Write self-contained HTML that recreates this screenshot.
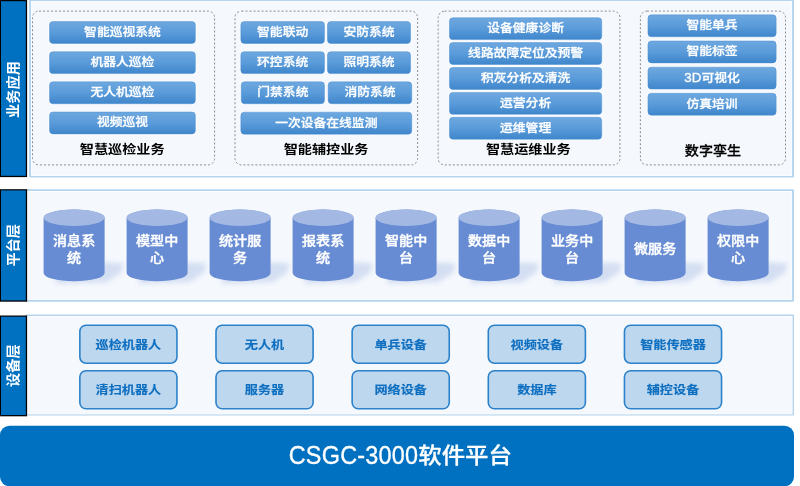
<!DOCTYPE html>
<html lang="zh-CN"><head><meta charset="utf-8"><title>CSGC-3000软件平台</title>
<style>
*{box-sizing:border-box;margin:0;padding:0}
html,body{width:800px;height:486px;overflow:hidden;background:#fff}
svg{display:block;position:absolute;left:0;top:0;filter:blur(0.4px)}
text{font-family:"Liberation Sans", "Noto Sans CJK SC", sans-serif;text-anchor:middle;white-space:pre}
.b{font-size:12.8px;font-weight:500;fill:#fff;stroke:#fff;stroke-width:.3px}
.t{font-size:14.15px;font-weight:700;fill:#000}
.t2{font-size:14.1px;font-weight:500;fill:#000;stroke:#000;stroke-width:.3px}
.c{font-size:14.1px;font-weight:500;fill:#fff;stroke:#fff;stroke-width:.4px}
.d{font-size:13.15px;font-weight:700;fill:#0e6fc0;stroke:#0e6fc0;stroke-width:.15px}
.s{font-size:14.2px;font-weight:700;fill:#fff}
.h{font-size:23.4px;font-weight:500;fill:#fff;stroke:#fff;stroke-width:.3px}
.hl{letter-spacing:.3px}
</style></head>
<body>
<svg width="800" height="486" viewBox="0 0 800 486">
<defs><linearGradient id="g" x1="0" y1="0" x2="0" y2="1"><stop offset="0" stop-color="#6ea8df"/><stop offset=".5" stop-color="#5a9bda"/><stop offset="1" stop-color="#3f86cb"/></linearGradient><filter id="sh" x="-50%" y="-50%" width="200%" height="200%"><feGaussianBlur stdDeviation="2.6"/></filter></defs>
<g id="panels">
<rect x="29.10" y="-0.30" width="764.90" height="177.90" rx="1" fill="#b5d4ee"/>
<rect x="31.00" y="1.00" width="761.10" height="175.00" fill="#fcfdfe"/>
<rect x="31.80" y="1.80" width="759.50" height="173.40" fill="#f5f8fd"/>
<rect x="25.20" y="189.30" width="768.80" height="112.40" rx="1" fill="#b5d4ee"/>
<rect x="27.10" y="191.00" width="765.00" height="108.90" fill="#fcfdfe"/>
<rect x="27.90" y="191.80" width="763.40" height="107.30" fill="#f5f8fd"/>
<rect x="25.20" y="314.40" width="768.80" height="101.20" rx="1" fill="#b5d4ee"/>
<rect x="27.10" y="316.00" width="765.50" height="98.40" fill="#fcfdfe"/>
<rect x="27.90" y="316.80" width="763.90" height="96.80" fill="#f5f8fd"/>
</g>
<g id="sidebars">
<rect x="0.00" y="0.00" width="27.10" height="177.10" fill="#000"/>
<rect x="1.00" y="1.20" width="24.80" height="174.60" fill="#0070c0"/>
<text class="s" transform="translate(13.3,89.5) rotate(-90) scale(1 0.98)" y="4.83">业务应用</text>
<rect x="0.00" y="189.20" width="27.10" height="112.50" fill="#000"/>
<rect x="1.00" y="190.40" width="24.80" height="110.00" fill="#0070c0"/>
<text class="s" transform="translate(13.3,245.3) rotate(-90) scale(1 0.98)" y="4.83">平台层</text>
<rect x="0.00" y="315.50" width="27.10" height="100.80" fill="#000"/>
<rect x="1.00" y="316.70" width="24.80" height="98.30" fill="#0070c0"/>
<text class="s" transform="translate(13.3,365.7) rotate(-90) scale(1 0.98)" y="4.83">设备层</text>
</g>
<g id="business">
<rect x="32.50" y="11.10" width="182.10" height="153.80" rx="6.5" fill="none" stroke="#8e8e8e" stroke-width="1.0" stroke-dasharray="2 2"/>
<rect x="235.00" y="11.10" width="182.60" height="153.80" rx="6.5" fill="none" stroke="#8e8e8e" stroke-width="1.0" stroke-dasharray="2 2"/>
<rect x="438.20" y="11.10" width="181.70" height="153.80" rx="6.5" fill="none" stroke="#8e8e8e" stroke-width="1.0" stroke-dasharray="2 2"/>
<rect x="640.40" y="11.10" width="145.10" height="153.80" rx="6.5" fill="none" stroke="#8e8e8e" stroke-width="1.0" stroke-dasharray="2 2"/>
<rect x="48.40" y="20.40" width="148.10" height="24.20" rx="4.3" fill="#fff" opacity=".75"/>
<rect x="49.55" y="21.55" width="145.80" height="21.90" rx="3.4" fill="url(#g)" stroke="#4a8ed1" stroke-width="0.5"/>
<text class="b" transform="translate(122.45 32.00) scale(1 0.9)" y="4.35">智能巡视系统</text>
<rect x="48.40" y="50.55" width="148.10" height="24.20" rx="4.3" fill="#fff" opacity=".75"/>
<rect x="49.55" y="51.70" width="145.80" height="21.90" rx="3.4" fill="url(#g)" stroke="#4a8ed1" stroke-width="0.5"/>
<text class="b" transform="translate(122.45 62.15) scale(1 0.9)" y="4.35">机器人巡检</text>
<rect x="48.40" y="80.70" width="148.10" height="24.20" rx="4.3" fill="#fff" opacity=".75"/>
<rect x="49.55" y="81.85" width="145.80" height="21.90" rx="3.4" fill="url(#g)" stroke="#4a8ed1" stroke-width="0.5"/>
<text class="b" transform="translate(122.45 92.30) scale(1 0.9)" y="4.35">无人机巡检</text>
<rect x="48.40" y="110.85" width="148.10" height="24.20" rx="4.3" fill="#fff" opacity=".75"/>
<rect x="49.55" y="112.00" width="145.80" height="21.90" rx="3.4" fill="url(#g)" stroke="#4a8ed1" stroke-width="0.5"/>
<text class="b" transform="translate(122.45 122.45) scale(1 0.9)" y="4.35">视频巡视</text>
<rect x="239.70" y="20.40" width="85.90" height="24.20" rx="4.3" fill="#fff" opacity=".75"/>
<rect x="240.85" y="21.55" width="83.60" height="21.90" rx="3.4" fill="url(#g)" stroke="#4a8ed1" stroke-width="0.5"/>
<text class="b" transform="translate(282.65 32.00) scale(1 0.9)" y="4.35">智能联动</text>
<rect x="326.30" y="20.40" width="85.40" height="24.20" rx="4.3" fill="#fff" opacity=".75"/>
<rect x="327.45" y="21.55" width="83.10" height="21.90" rx="3.4" fill="url(#g)" stroke="#4a8ed1" stroke-width="0.5"/>
<text class="b" transform="translate(369.00 32.00) scale(1 0.9)" y="4.35">安防系统</text>
<rect x="239.70" y="50.55" width="85.90" height="24.20" rx="4.3" fill="#fff" opacity=".75"/>
<rect x="240.85" y="51.70" width="83.60" height="21.90" rx="3.4" fill="url(#g)" stroke="#4a8ed1" stroke-width="0.5"/>
<text class="b" transform="translate(282.65 62.15) scale(1 0.9)" y="4.35">环控系统</text>
<rect x="326.30" y="50.55" width="85.40" height="24.20" rx="4.3" fill="#fff" opacity=".75"/>
<rect x="327.45" y="51.70" width="83.10" height="21.90" rx="3.4" fill="url(#g)" stroke="#4a8ed1" stroke-width="0.5"/>
<text class="b" transform="translate(369.00 62.15) scale(1 0.9)" y="4.35">照明系统</text>
<rect x="240.10" y="80.70" width="85.50" height="24.20" rx="4.3" fill="#fff" opacity=".75"/>
<rect x="241.25" y="81.85" width="83.20" height="21.90" rx="3.4" fill="url(#g)" stroke="#4a8ed1" stroke-width="0.5"/>
<text class="b" transform="translate(282.85 92.30) scale(1 0.9)" y="4.35">门禁系统</text>
<rect x="327.00" y="80.70" width="85.90" height="24.20" rx="4.3" fill="#fff" opacity=".75"/>
<rect x="328.15" y="81.85" width="83.60" height="21.90" rx="3.4" fill="url(#g)" stroke="#4a8ed1" stroke-width="0.5"/>
<text class="b" transform="translate(369.95 92.30) scale(1 0.9)" y="4.35">消防系统</text>
<rect x="239.70" y="111.00" width="173.20" height="24.30" rx="4.3" fill="#fff" opacity=".75"/>
<rect x="240.85" y="112.15" width="170.90" height="22.00" rx="3.4" fill="url(#g)" stroke="#4a8ed1" stroke-width="0.5"/>
<text class="b" transform="translate(326.30 122.65) scale(1 0.9)" y="4.35">一次设备在线监测</text>
<rect x="448.30" y="16.55" width="154.60" height="24.20" rx="4.3" fill="#fff" opacity=".75"/>
<rect x="449.45" y="17.70" width="152.30" height="21.90" rx="3.4" fill="url(#g)" stroke="#4a8ed1" stroke-width="0.5"/>
<text class="b" transform="translate(525.60 28.15) scale(1 0.9)" y="4.35">设备健康诊断</text>
<rect x="448.30" y="41.45" width="154.60" height="24.20" rx="4.3" fill="#fff" opacity=".75"/>
<rect x="449.45" y="42.60" width="152.30" height="21.90" rx="3.4" fill="url(#g)" stroke="#4a8ed1" stroke-width="0.5"/>
<text class="b" transform="translate(525.60 53.05) scale(1 0.9)" y="4.35">线路故障定位及预警</text>
<rect x="448.30" y="66.35" width="154.60" height="24.20" rx="4.3" fill="#fff" opacity=".75"/>
<rect x="449.45" y="67.50" width="152.30" height="21.90" rx="3.4" fill="url(#g)" stroke="#4a8ed1" stroke-width="0.5"/>
<text class="b" transform="translate(525.60 77.95) scale(1 0.9)" y="4.35">积灰分析及清洗</text>
<rect x="448.30" y="91.25" width="154.60" height="24.20" rx="4.3" fill="#fff" opacity=".75"/>
<rect x="449.45" y="92.40" width="152.30" height="21.90" rx="3.4" fill="url(#g)" stroke="#4a8ed1" stroke-width="0.5"/>
<text class="b" transform="translate(525.60 102.85) scale(1 0.9)" y="4.35">运营分析</text>
<rect x="448.30" y="116.15" width="154.60" height="24.20" rx="4.3" fill="#fff" opacity=".75"/>
<rect x="449.45" y="117.30" width="152.30" height="21.90" rx="3.4" fill="url(#g)" stroke="#4a8ed1" stroke-width="0.5"/>
<text class="b" transform="translate(525.60 127.75) scale(1 0.9)" y="4.35">运维管理</text>
<rect x="646.80" y="13.70" width="130.50" height="24.20" rx="4.3" fill="#fff" opacity=".75"/>
<rect x="647.95" y="14.85" width="128.20" height="21.90" rx="3.4" fill="url(#g)" stroke="#4a8ed1" stroke-width="0.5"/>
<text class="b" transform="translate(712.05 25.30) scale(1 0.9)" y="4.35">智能单兵</text>
<rect x="646.80" y="39.85" width="130.50" height="24.20" rx="4.3" fill="#fff" opacity=".75"/>
<rect x="647.95" y="41.00" width="128.20" height="21.90" rx="3.4" fill="url(#g)" stroke="#4a8ed1" stroke-width="0.5"/>
<text class="b" transform="translate(712.05 51.45) scale(1 0.9)" y="4.35">智能标签</text>
<rect x="646.80" y="66.00" width="130.50" height="24.20" rx="4.3" fill="#fff" opacity=".75"/>
<rect x="647.95" y="67.15" width="128.20" height="21.90" rx="3.4" fill="url(#g)" stroke="#4a8ed1" stroke-width="0.5"/>
<text class="b" style="text-anchor:end;font-size:13.4px;letter-spacing:0.0px" transform="translate(701.41 82.40) scale(1 1.0)">3D</text>
<text class="b" style="text-anchor:start" transform="translate(701.41 77.60) scale(1 0.9)" y="4.35">可视化</text>
<rect x="646.80" y="92.15" width="130.50" height="24.20" rx="4.3" fill="#fff" opacity=".75"/>
<rect x="647.95" y="93.30" width="128.20" height="21.90" rx="3.4" fill="url(#g)" stroke="#4a8ed1" stroke-width="0.5"/>
<text class="b" transform="translate(712.05 103.75) scale(1 0.9)" y="4.35">仿真培训</text>
<text class="t" transform="translate(122.20 150.10) scale(1 0.88)" y="4.81">智慧巡检业务</text>
<text class="t" transform="translate(326.10 150.10) scale(1 0.88)" y="4.81">智能辅控业务</text>
<text class="t" transform="translate(528.30 150.10) scale(1 0.88)" y="4.81">智慧运维业务</text>
<text class="t2" transform="translate(713.00 150.40) scale(1 0.9)" y="4.79">数字孪生</text>
</g>
<g id="platform">
<g transform="translate(43.60,209.5)">
<path d="M59.0 52.69999999999999 L80.0 53.69999999999999 L78.0 62.69999999999999 L63.0 72.69999999999999 L12 74.19999999999999 L12 65.69999999999999 Z" fill="#7f9bd6" opacity=".27" filter="url(#sh)"/>
<path d="M0 8.2 A30.5 8.2 0 0 1 61.0 8.2 V63.50 A30.5 8.2 0 0 1 0 63.50 Z" fill="#678cd3"/>
<ellipse cx="30.5" cy="8.2" rx="30.5" ry="8.2" fill="#a3b9e4"/>
</g>
<text class="c" transform="translate(74.10 240.30) scale(1 0.9)" y="4.79">消息系</text>
<text class="c" transform="translate(74.10 257.20) scale(1 0.9)" y="4.79">统</text>
<g transform="translate(126.60,209.5)">
<path d="M59.0 52.69999999999999 L80.0 53.69999999999999 L78.0 62.69999999999999 L63.0 72.69999999999999 L12 74.19999999999999 L12 65.69999999999999 Z" fill="#7f9bd6" opacity=".27" filter="url(#sh)"/>
<path d="M0 8.2 A30.5 8.2 0 0 1 61.0 8.2 V63.50 A30.5 8.2 0 0 1 0 63.50 Z" fill="#678cd3"/>
<ellipse cx="30.5" cy="8.2" rx="30.5" ry="8.2" fill="#a3b9e4"/>
</g>
<text class="c" transform="translate(157.10 240.30) scale(1 0.9)" y="4.79">模型中</text>
<text class="c" transform="translate(157.10 257.20) scale(1 0.9)" y="4.79">心</text>
<g transform="translate(209.60,209.5)">
<path d="M59.0 52.69999999999999 L80.0 53.69999999999999 L78.0 62.69999999999999 L63.0 72.69999999999999 L12 74.19999999999999 L12 65.69999999999999 Z" fill="#7f9bd6" opacity=".27" filter="url(#sh)"/>
<path d="M0 8.2 A30.5 8.2 0 0 1 61.0 8.2 V63.50 A30.5 8.2 0 0 1 0 63.50 Z" fill="#678cd3"/>
<ellipse cx="30.5" cy="8.2" rx="30.5" ry="8.2" fill="#a3b9e4"/>
</g>
<text class="c" transform="translate(240.10 240.30) scale(1 0.9)" y="4.79">统计服</text>
<text class="c" transform="translate(240.10 257.20) scale(1 0.9)" y="4.79">务</text>
<g transform="translate(292.60,209.5)">
<path d="M59.0 52.69999999999999 L80.0 53.69999999999999 L78.0 62.69999999999999 L63.0 72.69999999999999 L12 74.19999999999999 L12 65.69999999999999 Z" fill="#7f9bd6" opacity=".27" filter="url(#sh)"/>
<path d="M0 8.2 A30.5 8.2 0 0 1 61.0 8.2 V63.50 A30.5 8.2 0 0 1 0 63.50 Z" fill="#678cd3"/>
<ellipse cx="30.5" cy="8.2" rx="30.5" ry="8.2" fill="#a3b9e4"/>
</g>
<text class="c" transform="translate(323.10 240.30) scale(1 0.9)" y="4.79">报表系</text>
<text class="c" transform="translate(323.10 257.20) scale(1 0.9)" y="4.79">统</text>
<g transform="translate(375.60,209.5)">
<path d="M59.0 52.69999999999999 L80.0 53.69999999999999 L78.0 62.69999999999999 L63.0 72.69999999999999 L12 74.19999999999999 L12 65.69999999999999 Z" fill="#7f9bd6" opacity=".27" filter="url(#sh)"/>
<path d="M0 8.2 A30.5 8.2 0 0 1 61.0 8.2 V63.50 A30.5 8.2 0 0 1 0 63.50 Z" fill="#678cd3"/>
<ellipse cx="30.5" cy="8.2" rx="30.5" ry="8.2" fill="#a3b9e4"/>
</g>
<text class="c" transform="translate(406.10 240.30) scale(1 0.9)" y="4.79">智能中</text>
<text class="c" transform="translate(406.10 257.20) scale(1 0.9)" y="4.79">台</text>
<g transform="translate(458.60,209.5)">
<path d="M59.0 52.69999999999999 L80.0 53.69999999999999 L78.0 62.69999999999999 L63.0 72.69999999999999 L12 74.19999999999999 L12 65.69999999999999 Z" fill="#7f9bd6" opacity=".27" filter="url(#sh)"/>
<path d="M0 8.2 A30.5 8.2 0 0 1 61.0 8.2 V63.50 A30.5 8.2 0 0 1 0 63.50 Z" fill="#678cd3"/>
<ellipse cx="30.5" cy="8.2" rx="30.5" ry="8.2" fill="#a3b9e4"/>
</g>
<text class="c" transform="translate(489.10 240.30) scale(1 0.9)" y="4.79">数据中</text>
<text class="c" transform="translate(489.10 257.20) scale(1 0.9)" y="4.79">台</text>
<g transform="translate(541.60,209.5)">
<path d="M59.0 52.69999999999999 L80.0 53.69999999999999 L78.0 62.69999999999999 L63.0 72.69999999999999 L12 74.19999999999999 L12 65.69999999999999 Z" fill="#7f9bd6" opacity=".27" filter="url(#sh)"/>
<path d="M0 8.2 A30.5 8.2 0 0 1 61.0 8.2 V63.50 A30.5 8.2 0 0 1 0 63.50 Z" fill="#678cd3"/>
<ellipse cx="30.5" cy="8.2" rx="30.5" ry="8.2" fill="#a3b9e4"/>
</g>
<text class="c" transform="translate(572.10 240.30) scale(1 0.9)" y="4.79">业务中</text>
<text class="c" transform="translate(572.10 257.20) scale(1 0.9)" y="4.79">台</text>
<g transform="translate(624.60,209.5)">
<path d="M59.0 52.69999999999999 L80.0 53.69999999999999 L78.0 62.69999999999999 L63.0 72.69999999999999 L12 74.19999999999999 L12 65.69999999999999 Z" fill="#7f9bd6" opacity=".27" filter="url(#sh)"/>
<path d="M0 8.2 A30.5 8.2 0 0 1 61.0 8.2 V63.50 A30.5 8.2 0 0 1 0 63.50 Z" fill="#678cd3"/>
<ellipse cx="30.5" cy="8.2" rx="30.5" ry="8.2" fill="#a3b9e4"/>
</g>
<text class="c" transform="translate(655.10 248.70) scale(1 0.9)" y="4.79">微服务</text>
<g transform="translate(707.60,209.5)">
<path d="M59.0 52.69999999999999 L80.0 53.69999999999999 L78.0 62.69999999999999 L63.0 72.69999999999999 L12 74.19999999999999 L12 65.69999999999999 Z" fill="#7f9bd6" opacity=".27" filter="url(#sh)"/>
<path d="M0 8.2 A30.5 8.2 0 0 1 61.0 8.2 V63.50 A30.5 8.2 0 0 1 0 63.50 Z" fill="#678cd3"/>
<ellipse cx="30.5" cy="8.2" rx="30.5" ry="8.2" fill="#a3b9e4"/>
</g>
<text class="c" transform="translate(738.10 240.30) scale(1 0.9)" y="4.79">权限中</text>
<text class="c" transform="translate(738.10 257.20) scale(1 0.9)" y="4.79">心</text>
</g>
<g id="devices">
<rect x="79.85" y="325.20" width="97.10" height="38.00" rx="6.2" fill="#bdd7ee" stroke="#2b82ca" stroke-width="1.6"/>
<text class="d" transform="translate(128.40 344.90) scale(1 0.9)" y="4.47">巡检机器人</text>
<rect x="79.85" y="370.70" width="97.10" height="38.10" rx="6.2" fill="#bdd7ee" stroke="#2b82ca" stroke-width="1.6"/>
<text class="d" transform="translate(128.40 390.45) scale(1 0.9)" y="4.47">清扫机器人</text>
<rect x="216.00" y="325.20" width="97.10" height="38.00" rx="6.2" fill="#bdd7ee" stroke="#2b82ca" stroke-width="1.6"/>
<text class="d" transform="translate(264.55 344.90) scale(1 0.9)" y="4.47">无人机</text>
<rect x="216.00" y="370.70" width="97.10" height="38.10" rx="6.2" fill="#bdd7ee" stroke="#2b82ca" stroke-width="1.6"/>
<text class="d" transform="translate(264.55 390.45) scale(1 0.9)" y="4.47">服务器</text>
<rect x="352.15" y="325.20" width="97.10" height="38.00" rx="6.2" fill="#bdd7ee" stroke="#2b82ca" stroke-width="1.6"/>
<text class="d" transform="translate(400.70 344.90) scale(1 0.9)" y="4.47">单兵设备</text>
<rect x="352.15" y="370.70" width="97.10" height="38.10" rx="6.2" fill="#bdd7ee" stroke="#2b82ca" stroke-width="1.6"/>
<text class="d" transform="translate(400.70 390.45) scale(1 0.9)" y="4.47">网络设备</text>
<rect x="488.30" y="325.20" width="97.10" height="38.00" rx="6.2" fill="#bdd7ee" stroke="#2b82ca" stroke-width="1.6"/>
<text class="d" transform="translate(536.85 344.90) scale(1 0.9)" y="4.47">视频设备</text>
<rect x="488.30" y="370.70" width="97.10" height="38.10" rx="6.2" fill="#bdd7ee" stroke="#2b82ca" stroke-width="1.6"/>
<text class="d" transform="translate(536.85 390.45) scale(1 0.9)" y="4.47">数据库</text>
<rect x="624.45" y="325.20" width="97.10" height="38.00" rx="6.2" fill="#bdd7ee" stroke="#2b82ca" stroke-width="1.6"/>
<text class="d" transform="translate(673.00 344.90) scale(1 0.9)" y="4.47">智能传感器</text>
<rect x="624.45" y="370.70" width="97.10" height="38.10" rx="6.2" fill="#bdd7ee" stroke="#2b82ca" stroke-width="1.6"/>
<text class="d" transform="translate(673.00 390.45) scale(1 0.9)" y="4.47">辅控设备</text>
</g>
<rect x="0.00" y="425.80" width="794.00" height="60.40" rx="9.5" fill="#0070c0"/>
<text class="h" style="text-anchor:end;font-size:23.4px;letter-spacing:0.25px" transform="translate(418.34 464.23) scale(1 1.07)">CSGC-3000</text>
<text class="h" style="text-anchor:start" transform="translate(418.34 455.85) scale(1 0.9)" y="7.96">软件平台</text>
</svg>
</body></html>
